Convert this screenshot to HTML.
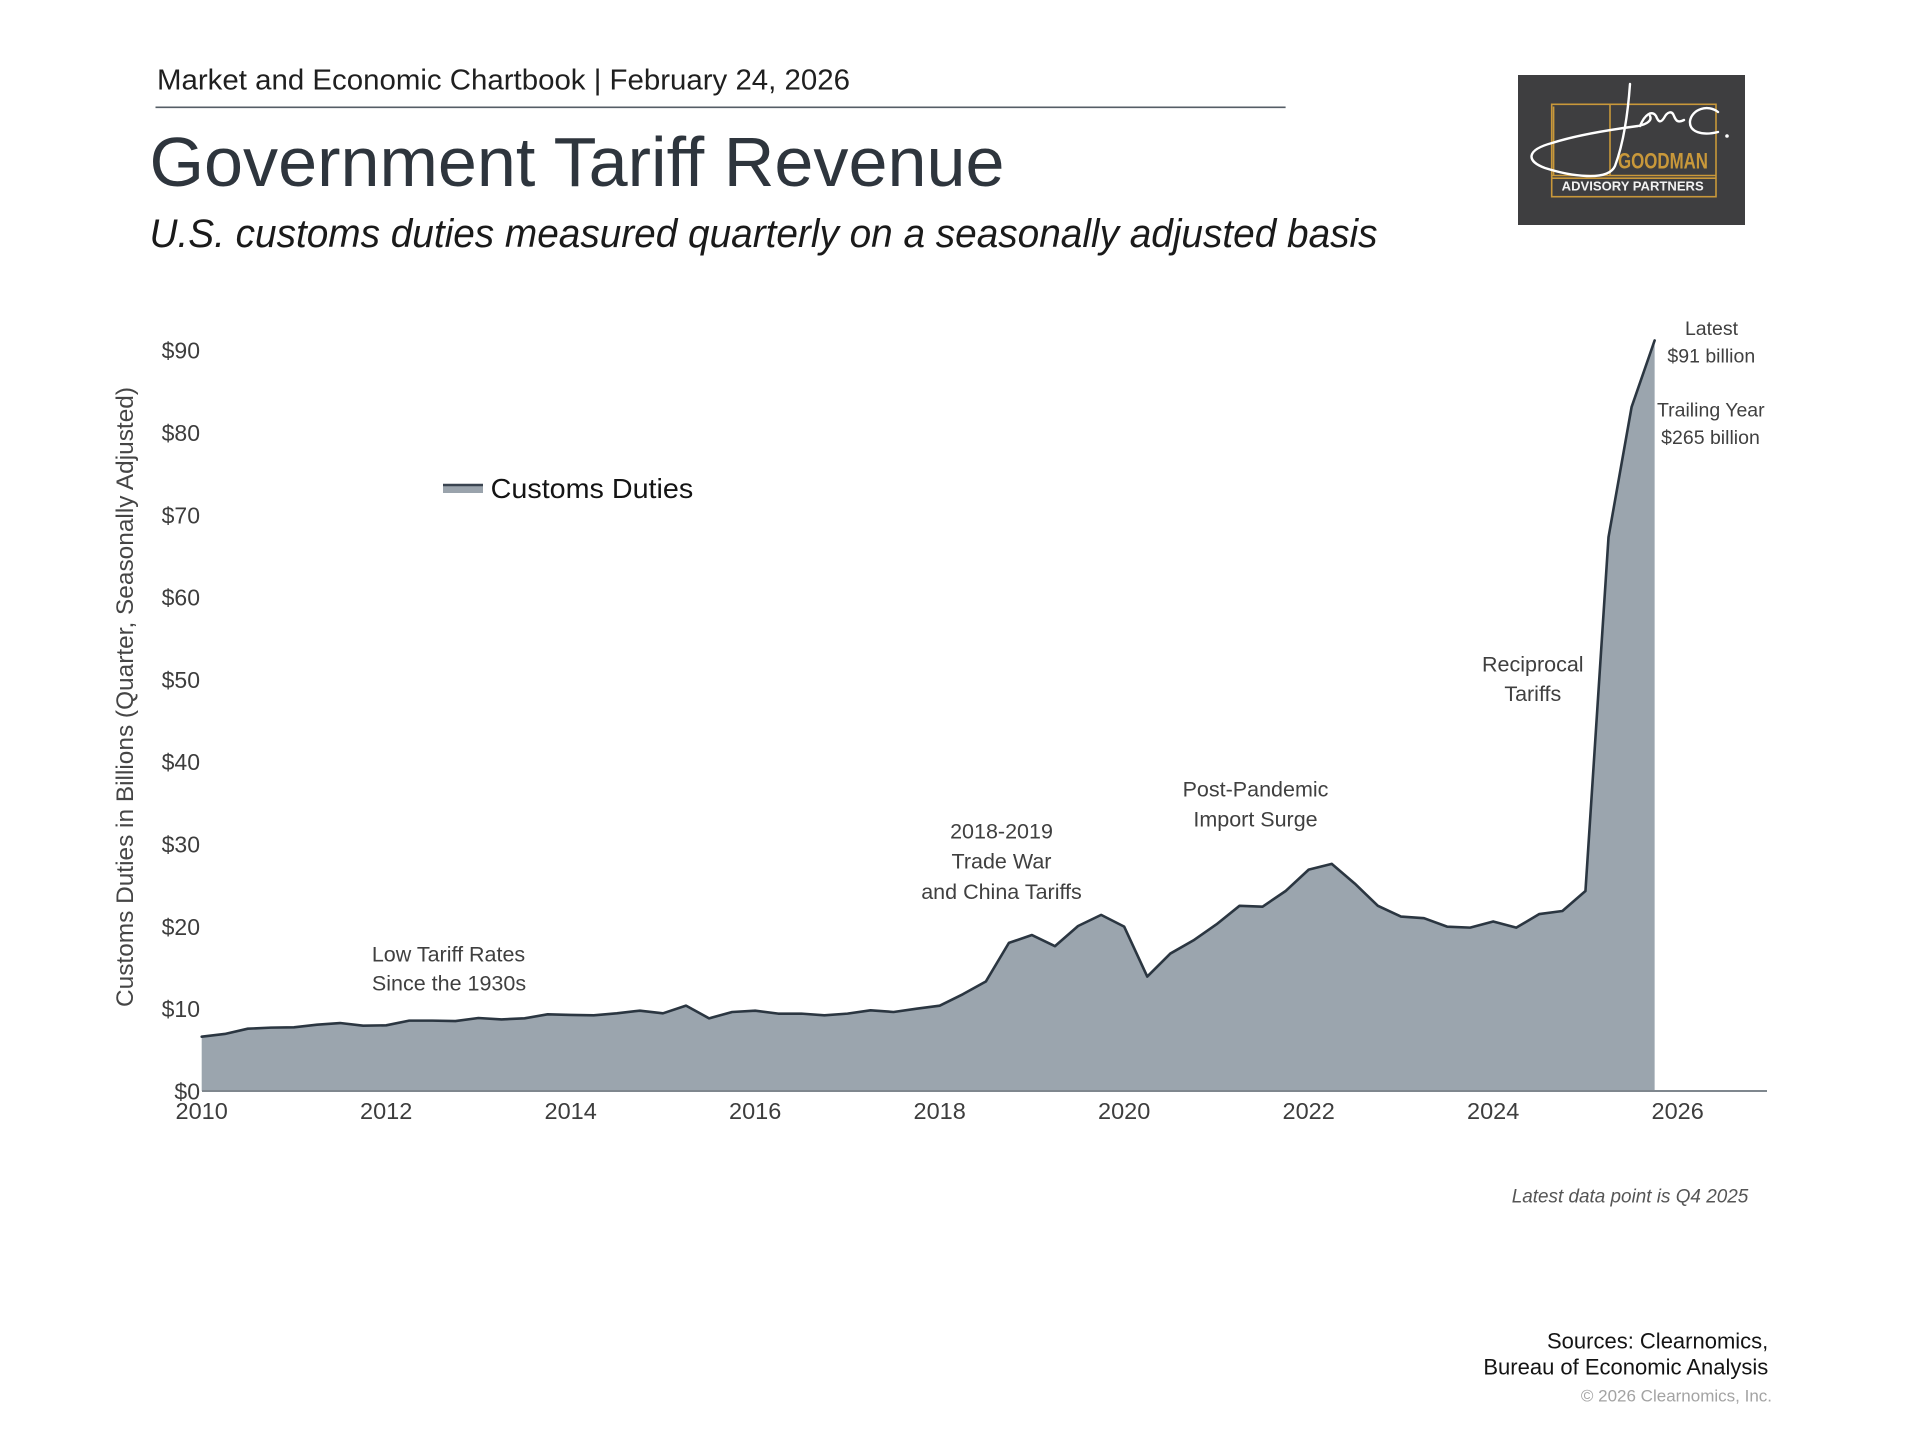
<!DOCTYPE html>
<html>
<head>
<meta charset="utf-8">
<style>
  html, body { margin:0; padding:0; background:#ffffff; }
  body { width:1920px; height:1440px; overflow:hidden; }
  svg { display:block; }
  text { font-family: "Liberation Sans", "DejaVu Sans", sans-serif; }
</style>
</head>
<body>
<svg width="1920" height="1440" viewBox="0 0 1920 1440" xmlns="http://www.w3.org/2000/svg">
  <rect x="0" y="0" width="1920" height="1440" fill="#ffffff"/>

  <!-- Header -->
  <text x="157" y="89.3" font-size="29" fill="#1f1f1f" textLength="693" lengthAdjust="spacingAndGlyphs">Market and Economic Chartbook | February 24, 2026</text>
  <line x1="155.5" y1="107.3" x2="1285.6" y2="107.3" stroke="#555e66" stroke-width="1.6"/>
  <text x="149.5" y="186" font-size="70" fill="#2e353d" textLength="855" lengthAdjust="spacingAndGlyphs">Government Tariff Revenue</text>
  <text x="149.5" y="247" font-size="39.5" font-style="italic" fill="#1a1a1a" textLength="1228" lengthAdjust="spacingAndGlyphs">U.S. customs duties measured quarterly on a seasonally adjusted basis</text>

  <!-- Logo -->
  <rect x="1518" y="75" width="227" height="150" fill="#3e3e40"/>
  <g fill="none" stroke="#c9983a" stroke-width="1.6">
    <rect x="1551.7" y="104.3" width="164.3" height="92.4"/>
    <line x1="1553.6" y1="106.5" x2="1553.6" y2="175.5"/>
    <line x1="1610" y1="104.3" x2="1610" y2="175.5"/>
    <line x1="1551.7" y1="175.5" x2="1716" y2="175.5"/>
    <line x1="1551.7" y1="178.2" x2="1716" y2="178.2"/>
  </g>
  <text x="1618" y="168.3" font-size="22" font-weight="bold" fill="#c9983a" font-family="Liberation Sans Narrow, Liberation Sans, sans-serif" textLength="90" lengthAdjust="spacingAndGlyphs">GOODMAN</text>
  <text x="1561.7" y="190.7" font-size="12.5" font-weight="bold" fill="#f2f2f2" font-family="Liberation Serif, serif" textLength="142" lengthAdjust="spacingAndGlyphs">ADVISORY PARTNERS</text>
  <g fill="none" stroke="#ffffff" stroke-width="2.4" stroke-linecap="round" stroke-linejoin="round">
    <path d="M1630,84 C1628,112 1624,142 1615,166 C1608,182 1570,176 1545,168 C1526,161 1526,150 1552,143 C1580,134 1615,129 1638,126 C1648,124 1652,120 1650,116"/>
    <path d="M1640,126 C1645,114 1652,110 1656,116 C1658,121 1660,124 1664,118 C1667,112 1672,110 1674,116 C1676,121 1678,123 1684,120"/>
    <path d="M1718,112 C1708,104 1692,109 1690,121 C1689,132 1702,136 1718,132"/>
  </g>
  <circle cx="1727" cy="136" r="1.8" fill="#ffffff"/>

  <!-- Y axis title -->
  <text transform="translate(133,697) rotate(-90)" text-anchor="middle" font-size="24.3" fill="#454545" textLength="620" lengthAdjust="spacingAndGlyphs">Customs Duties in Billions (Quarter, Seasonally Adjusted)</text>

  <!-- Y tick labels -->
  <g font-size="23" fill="#3d3d3d" text-anchor="end">
    <text x="200" y="1099.4">$0</text>
    <text x="200" y="1017.1">$10</text>
    <text x="200" y="934.8">$20</text>
    <text x="200" y="852.5">$30</text>
    <text x="200" y="770.2">$40</text>
    <text x="200" y="687.9">$50</text>
    <text x="200" y="605.6">$60</text>
    <text x="200" y="523.3">$70</text>
    <text x="200" y="441.0">$80</text>
    <text x="200" y="358.7">$90</text>
  </g>

  <!-- X tick labels -->
  <g font-size="23.5" fill="#3d3d3d" text-anchor="middle">
    <text x="201.7" y="1119">2010</text>
    <text x="386.2" y="1119">2012</text>
    <text x="570.7" y="1119">2014</text>
    <text x="755.2" y="1119">2016</text>
    <text x="939.7" y="1119">2018</text>
    <text x="1124.2" y="1119">2020</text>
    <text x="1308.7" y="1119">2022</text>
    <text x="1493.2" y="1119">2024</text>
    <text x="1677.7" y="1119">2026</text>
  </g>

  <!-- Area -->
  <g transform="translate(201.7,1091) scale(23.0625,-8.23)">
    <polygon fill="#9ba5ae" stroke="none" points="0,0 0,6.6 1,6.93 2,7.57 3,7.7 4,7.74 5,8.06 6,8.26 7,7.94 8,7.98 9,8.55 10,8.55 11,8.5 12,8.87 13,8.7 14,8.83 15,9.32 16,9.24 17,9.2 18,9.44 19,9.76 20,9.44 21,10.37 22,8.83 23,9.6 24,9.76 25,9.4 26,9.4 27,9.2 28,9.4 29,9.8 30,9.6 31,10.0 32,10.37 33,11.75 34,13.3 35,18.0 36,18.95 37,17.6 38,20.05 39,21.4 40,19.97 41,13.9 42,16.7 43,18.3 44,20.25 45,22.5 46,22.4 47,24.3 48,26.9 49,27.6 50,25.2 51,22.5 52,21.2 53,21.0 54,19.97 55,19.85 56,20.6 57,19.85 58,21.5 59,21.87 60,24.3 61,67.3 62,83.1 63,91.2 63,0"/>
    <polyline fill="none" stroke="#2b3641" stroke-width="2.6" stroke-linejoin="round" stroke-linecap="round" vector-effect="non-scaling-stroke" points="0,6.6 1,6.93 2,7.57 3,7.7 4,7.74 5,8.06 6,8.26 7,7.94 8,7.98 9,8.55 10,8.55 11,8.5 12,8.87 13,8.7 14,8.83 15,9.32 16,9.24 17,9.2 18,9.44 19,9.76 20,9.44 21,10.37 22,8.83 23,9.6 24,9.76 25,9.4 26,9.4 27,9.2 28,9.4 29,9.8 30,9.6 31,10.0 32,10.37 33,11.75 34,13.3 35,18.0 36,18.95 37,17.6 38,20.05 39,21.4 40,19.97 41,13.9 42,16.7 43,18.3 44,20.25 45,22.5 46,22.4 47,24.3 48,26.9 49,27.6 50,25.2 51,22.5 52,21.2 53,21.0 54,19.97 55,19.85 56,20.6 57,19.85 58,21.5 59,21.87 60,24.3 61,67.3 62,83.1 63,91.2"/>
  </g>

  <!-- X axis line -->
  <line x1="202" y1="1091" x2="1767" y2="1091" stroke="#7f878e" stroke-width="2"/>

  <!-- Legend -->
  <rect x="443" y="484" width="40" height="9" fill="#9aa3ac"/>
  <line x1="443" y1="485" x2="483" y2="485" stroke="#3a4450" stroke-width="2.5"/>
  <text x="490.7" y="498" font-size="28" fill="#141414" textLength="202.5" lengthAdjust="spacingAndGlyphs">Customs Duties</text>

  <!-- Annotations -->
  <g font-size="21.5" fill="#404040" text-anchor="middle">
    <text x="448.5" y="961.7">Low Tariff Rates</text>
    <text x="449" y="990.7">Since the 1930s</text>

    <text x="1001.5" y="838.3">2018-2019</text>
    <text x="1001.5" y="868.3">Trade War</text>
    <text x="1001.5" y="899">and China Tariffs</text>

    <text x="1255.5" y="796.7">Post-Pandemic</text>
    <text x="1255.5" y="826.7">Import Surge</text>

    <text x="1532.8" y="671.7">Reciprocal</text>
    <text x="1532.8" y="701">Tariffs</text>
  </g>
  <g font-size="19.5" fill="#404040" text-anchor="middle">
    <text x="1711.5" y="335">Latest</text>
    <text x="1711.3" y="362.7">$91 billion</text>
    <text x="1710.8" y="416.7">Trailing Year</text>
    <text x="1710.5" y="444">$265 billion</text>
  </g>

  <!-- Footer -->
  <text x="1748.3" y="1202.3" font-size="19" font-style="italic" fill="#555555" text-anchor="end" textLength="236.6" lengthAdjust="spacingAndGlyphs">Latest data point is Q4 2025</text>
  <text x="1768.3" y="1348.3" font-size="22" fill="#141414" text-anchor="end">Sources: Clearnomics,</text>
  <text x="1768.3" y="1374.3" font-size="22" fill="#141414" text-anchor="end">Bureau of Economic Analysis</text>
  <text x="1772" y="1401.7" font-size="17" fill="#a3a3a3" text-anchor="end">© 2026 Clearnomics, Inc.</text>
</svg>
</body>
</html>
